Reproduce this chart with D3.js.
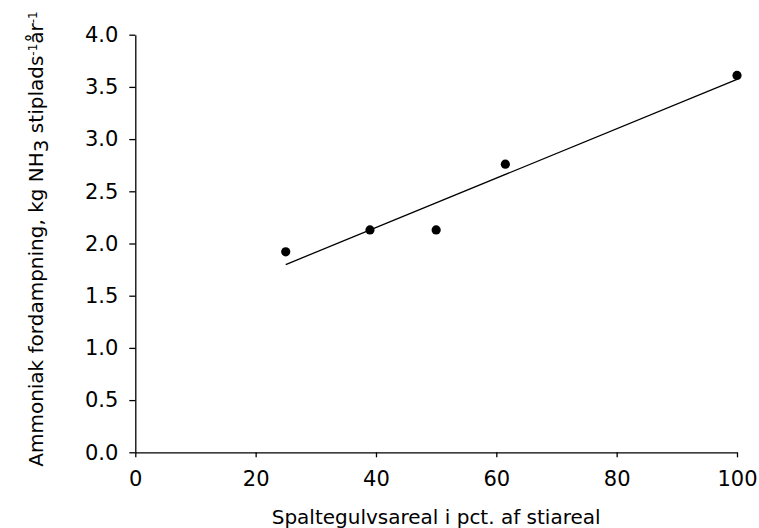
<!DOCTYPE html>
<html>
<head>
<meta charset="utf-8">
<script src="https://cdn.jsdelivr.net/npm/d3@7"></script>
<style>
  body { margin: 0; background: #fff; }
  svg { display: block; }
  .axis path, .axis line { stroke: #000; stroke-width: 1.3; }
  .axis text { fill: #000; font-family: "DejaVu Sans", Verdana, sans-serif; font-size: 21px; }
  .axis-label { fill: #000; font-family: "DejaVu Sans", Verdana, sans-serif; }
</style>
</head>
<body>
<svg id="chart"></svg>
<script>
// Spaltegulv (% af stiareal) vs ammoniak fordampning
const slatShare = [25, 39, 50, 61.5, 100];
const ammonia = [1.92, 2.13, 2.13, 2.76, 3.61];
const xTicks = [0, 20, 40, 60, 80, 100];
const yTicks = [0, 0.5, 1, 1.5, 2, 2.5, 3, 3.5, 4];

const config = {
    containerWidth: 759,
    containerHeight: 528,
    margin: {top: 34.7, right: 22, bottom: 75.7, left: 135.3}
};

const width = config.containerWidth - config.margin.left - config.margin.right;
const height = config.containerHeight - config.margin.top - config.margin.bottom;

const svg = d3.select('#chart')
    .attr('width', config.containerWidth)
    .attr('height', config.containerHeight);

const chart = svg.append('g')
    .attr('transform', `translate(${config.margin.left},${config.margin.top})`);

// scales
const xScale = d3.scaleLinear().domain([0, 100]).range([0, width]);
const yScale = d3.scaleLinear().domain([0, 4]).range([height, 0]);

// axes
const xAxis = d3.axisBottom(xScale)
    .tickValues(xTicks)
    .tickSize(5)
    .tickSizeOuter(0)
    .tickPadding(14)
    .tickFormat(d3.format('d'));

const yAxis = d3.axisLeft(yScale)
    .tickValues(yTicks)
    .tickSize(6)
    .tickSizeOuter(0)
    .tickPadding(11)
    .tickFormat(d3.format('.1f'));

chart.append('g')
    .attr('class', 'axis x-axis')
    .attr('transform', `translate(0,${height})`)
    .call(xAxis);

chart.append('g')
    .attr('class', 'axis y-axis')
    .call(yAxis);

// linear regression line over the data range
const data = slatShare.map((x, i) => ({x: x, y: ammonia[i]}));
const mx = d3.mean(data, d => d.x);
const my = d3.mean(data, d => d.y);
const slope = d3.sum(data, d => (d.x - mx) * (d.y - my)) / d3.sum(data, d => (d.x - mx) ** 2);
const intercept = my - slope * mx;
const xExt = d3.extent(slatShare);
const fit = xExt.map(x => ({x: x, y: intercept + slope * x}));

chart.append('path')
    .datum(fit)
    .attr('fill', 'none')
    .attr('stroke', '#000')
    .attr('stroke-width', 1.3)
    .attr('d', d3.line().x(d => xScale(d.x)).y(d => yScale(d.y)));

chart.selectAll('.dot')
    .data(data)
    .join('circle')
    .attr('class', 'dot')
    .attr('cx', d => xScale(d.x))
    .attr('cy', d => yScale(d.y))
    .attr('r', 4.6)
    .attr('fill', '#000');

// axis titles
svg.append('text')
    .attr('class', 'axis-label')
    .attr('font-size', 20)
    .attr('x', config.margin.left + width / 2)
    .attr('y', 524)
    .attr('text-anchor', 'middle')
    .text('Spaltegulvsareal i pct. af stiareal');

const yTitle = svg.append('text')
    .attr('class', 'axis-label')
    .attr('font-size', 20)
    .attr('text-anchor', 'middle')
    .attr('transform', 'translate(43,239) rotate(-90)');

yTitle.append('tspan').text('Ammoniak fordampning, kg NH');
yTitle.append('tspan').attr('baseline-shift', '-25%').text('3');
yTitle.append('tspan').text(' stiplads');
yTitle.append('tspan').attr('baseline-shift', '50%').attr('font-size', 12).text('-1');
yTitle.append('tspan').text('år');
yTitle.append('tspan').attr('baseline-shift', '50%').attr('font-size', 12).text('-1');
</script>
</body>
</html>
